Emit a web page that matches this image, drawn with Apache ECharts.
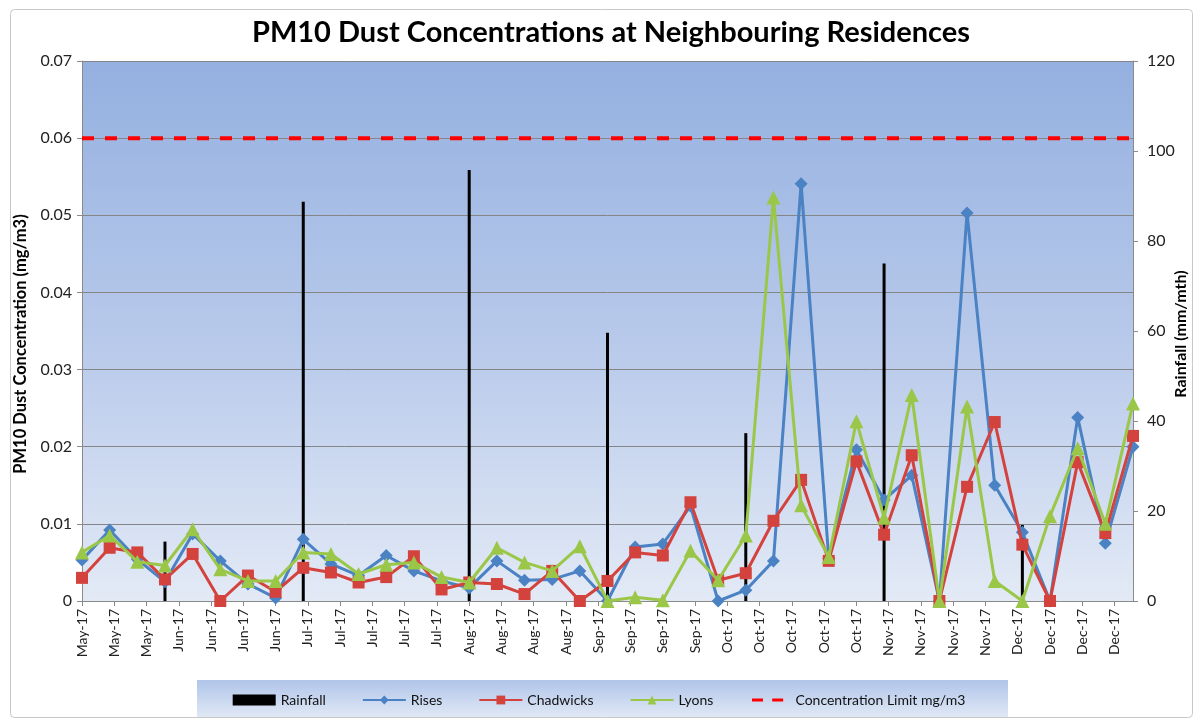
<!DOCTYPE html>
<html>
<head>
<meta charset="utf-8">
<script src="https://cdn.jsdelivr.net/npm/echarts@6/dist/echarts.min.js"></script>
<style>
html,body{margin:0;padding:0;background:#fff;}
#chart{width:1198px;height:721px;}
</style>
</head>
<body>
<div id="chart"></div>
<script>
// ---- data ----
const sampleDates = ['2017-05-14','2017-05-20','2017-05-26','2017-06-01','2017-06-07','2017-06-13','2017-06-19','2017-06-25',
  '2017-07-01','2017-07-07','2017-07-13','2017-07-19','2017-07-25','2017-07-31','2017-08-06','2017-08-12','2017-08-18',
  '2017-08-24','2017-08-30','2017-09-05','2017-09-11','2017-09-17','2017-09-23','2017-09-29','2017-10-05','2017-10-11',
  '2017-10-17','2017-10-23','2017-10-29','2017-11-04','2017-11-10','2017-11-16','2017-11-22','2017-11-28','2017-12-04',
  '2017-12-10','2017-12-16','2017-12-22','2017-12-28'];
const rises = [0.0053,0.0092,0.0054,0.0025,0.0087,0.0052,0.0022,0.0004,0.0080,0.0048,0.0033,0.0059,0.0039,0.0026,0.0017,
  0.0052,0.0027,0.0028,0.0039,0.0000,0.0070,0.0074,0.0123,0.0000,0.0014,0.0052,0.0541,0.0055,0.0196,0.0131,0.0163,0.0000,
  0.0503,0.0150,0.0089,0.0000,0.0238,0.0075,0.0200];
const chadwicks = [0.0030,0.0069,0.0063,0.0028,0.0061,0.0000,0.0033,0.0012,0.0043,0.0037,0.0024,0.0031,0.0058,0.0015,0.0024,
  0.0022,0.0009,0.0039,0.0000,0.0026,0.0063,0.0059,0.0128,0.0027,0.0036,0.0104,0.0157,0.0052,0.0181,0.0086,0.0189,0.0000,
  0.0148,0.0232,0.0073,0.0000,0.0180,0.0088,0.0214];
const lyons = [0.0063,0.0085,0.0051,0.0046,0.0093,0.0041,0.0026,0.0026,0.0063,0.0061,0.0035,0.0047,0.0050,0.0031,0.0024,
  0.0069,0.0050,0.0039,0.0071,0.0000,0.0005,0.0001,0.0065,0.0027,0.0085,0.0523,0.0124,0.0057,0.0233,0.0108,0.0267,0.0000,
  0.0252,0.0026,0.0000,0.0110,0.0198,0.0100,0.0256];
const rainDates = ['2017-06-01','2017-07-01','2017-08-06','2017-09-05','2017-10-05','2017-11-04','2017-12-04'];
const rainfall = [13.2,88.7,95.8,59.6,37.3,75.0,16.9];
const concentrationLimit = 0.06;
const tickLabels = ['May-17','May-17','May-17','Jun-17','Jun-17','Jun-17','Jun-17','Jul-17','Jul-17','Jul-17','Jul-17','Jul-17',
  'Aug-17','Aug-17','Aug-17','Aug-17','Sep-17','Sep-17','Sep-17','Sep-17','Oct-17','Oct-17','Oct-17','Oct-17','Oct-17',
  'Nov-17','Nov-17','Nov-17','Nov-17','Dec-17','Dec-17','Dec-17','Dec-17'];
const tickStepDays = 7;

// ---- helpers ----
const DAY = 86400000;
const t0 = Date.parse(sampleDates[0]);
const dayOf = d => Math.round((Date.parse(d) - t0) / DAY);
const lastDay = dayOf(sampleDates[sampleDates.length - 1]);
const pair = (dates, vals) => dates.map((d, i) => [dayOf(d), vals[i]]);
const tickDays = tickLabels.map((_, i) => i * tickStepDays);

const FONT = 'Lato, "Open Sans", sans-serif';
const chart = echarts.init(document.getElementById('chart'));

const dashIcon = 'path://M0,0L0.05,0L0.05,0.05Z M43,12L42.95,12L42.95,11.95Z M3,4.3H15V7.7H3Z M25,4.3H37V7.7H25Z';

const option = {
  backgroundColor: '#ffffff',
  textStyle: { fontFamily: FONT },
  title: {
    text: 'PM10 Dust Concentrations at Neighbouring Residences',
    left: 606, top: 13, textAlign: 'center',
    textStyle: { fontFamily: FONT, fontWeight: 'bold', fontSize: 29, color: '#000' }
  },
  graphic: [
    { type: 'rect', left: 8, top: 7, shape: { width: 1182, height: 708, r: 4 }, silent: true, z: -10,
      style: { fill: 'none', stroke: '#c8c8c8', lineWidth: 1 } },
    { type: 'rect', left: 197, top: 680, shape: { width: 811, height: 37 }, silent: true, z: -5,
      style: { fill: new echarts.graphic.LinearGradient(0, 0, 0, 1, [
        { offset: 0, color: '#b0c5ea' }, { offset: 1, color: '#e0e8f5' }]) } },
    { type: 'text', x: 1181, y: 334, rotation: Math.PI / 2, silent: true, z: 10,
      style: { text: 'Rainfall (mm/mth)', align: 'center', verticalAlign: 'middle',
        fontFamily: FONT, fontWeight: 'bold', fontSize: 16, fill: '#000' } }
  ],
  grid: {
    left: 82, right: 65, top: 61, bottom: 120, show: true, borderWidth: 0,
    outerBoundsMode: 'none', containLabel: false,
    backgroundColor: new echarts.graphic.LinearGradient(0, 0, 0, 1, [
      { offset: 0, color: '#94b0e0' }, { offset: 0.55, color: '#bacbeb' }, { offset: 1, color: '#e3eaf6' }])
  },
  legend: {
    bottom: 9, left: 'center',
    itemGap: 36, itemWidth: 43, itemHeight: 11,
    textStyle: { fontFamily: FONT, fontSize: 14, color: '#111' },
    data: [
      { name: 'Rainfall', icon: 'rect' },
      { name: 'Rises' }, { name: 'Chadwicks' }, { name: 'Lyons' },
      { name: 'Concentration Limit mg/m3', icon: dashIcon, itemStyle: { color: '#ff0000' } }
    ]
  },
  xAxis: {
    type: 'value', min: 0, max: lastDay,
    axisLine: { show: true, lineStyle: { color: '#8a8a8a', width: 1 } },
    axisTick: { show: true, length: 5, lineStyle: { color: '#8a8a8a' }, customValues: tickDays },
    splitLine: { show: false },
    axisLabel: {
      rotate: 90, fontSize: 14, color: '#222', margin: 8, fontFamily: FONT,
      customValues: tickDays,
      showMinLabel: true, showMaxLabel: true,
      formatter: v => (v % tickStepDays === 0 ? (tickLabels[v / tickStepDays] || '') : '')
    }
  },
  yAxis: [
    {
      type: 'value', min: 0, max: 0.07, interval: 0.01,
      name: 'PM10 Dust Concentration (mg/m3)', nameLocation: 'middle', nameGap: 52, nameRotate: 90,
      nameTextStyle: { fontFamily: FONT, fontWeight: 'bold', fontSize: 16.5, color: '#000', padding: [0, 0, 0, -26] },
      axisLine: { show: true, lineStyle: { color: '#8a8a8a' } },
      axisTick: { show: true, length: 5, lineStyle: { color: '#8a8a8a' } },
      splitLine: { show: true, lineStyle: { color: '#858585', width: 1 } },
      axisLabel: { fontSize: 16, color: '#222', margin: 10, fontFamily: FONT,
        formatter: v => (v === 0 ? '0' : v.toFixed(2)) }
    },
    {
      type: 'value', min: 0, max: 120, interval: 20,
      axisLine: { show: true, lineStyle: { color: '#8a8a8a' } },
      axisTick: { show: true, length: 5, lineStyle: { color: '#8a8a8a' } },
      splitLine: { show: false },
      axisLabel: { fontSize: 16, color: '#222', margin: 14, fontFamily: FONT }
    }
  ],
  series: [
    {
      name: 'Rainfall', type: 'bar', yAxisIndex: 1, barWidth: 3,
      itemStyle: { color: '#000' },
      data: pair(rainDates, rainfall), z: 1
    },
    {
      name: 'Rises', type: 'line', symbol: 'diamond', symbolSize: 13,
      lineStyle: { color: '#4a82c4', width: 3 }, itemStyle: { color: '#4a82c4' },
      data: pair(sampleDates, rises), z: 2
    },
    {
      name: 'Chadwicks', type: 'line', symbol: 'rect', symbolSize: 12,
      lineStyle: { color: '#d4423e', width: 3 }, itemStyle: { color: '#d4423e' },
      data: pair(sampleDates, chadwicks), z: 3
    },
    {
      name: 'Lyons', type: 'line', symbol: 'triangle', symbolSize: 14,
      lineStyle: { color: '#9bc748', width: 3 }, itemStyle: { color: '#9bc748' },
      data: pair(sampleDates, lyons), z: 4
    },
    {
      name: 'Concentration Limit mg/m3', type: 'line', symbol: 'none',
      lineStyle: { color: '#ff0000', width: 4, type: [12, 11] }, itemStyle: { color: '#ff0000' },
      data: [[0, concentrationLimit], [lastDay, concentrationLimit]], z: 5
    }
  ]
};
chart.setOption(option);
</script>
</body>
</html>
